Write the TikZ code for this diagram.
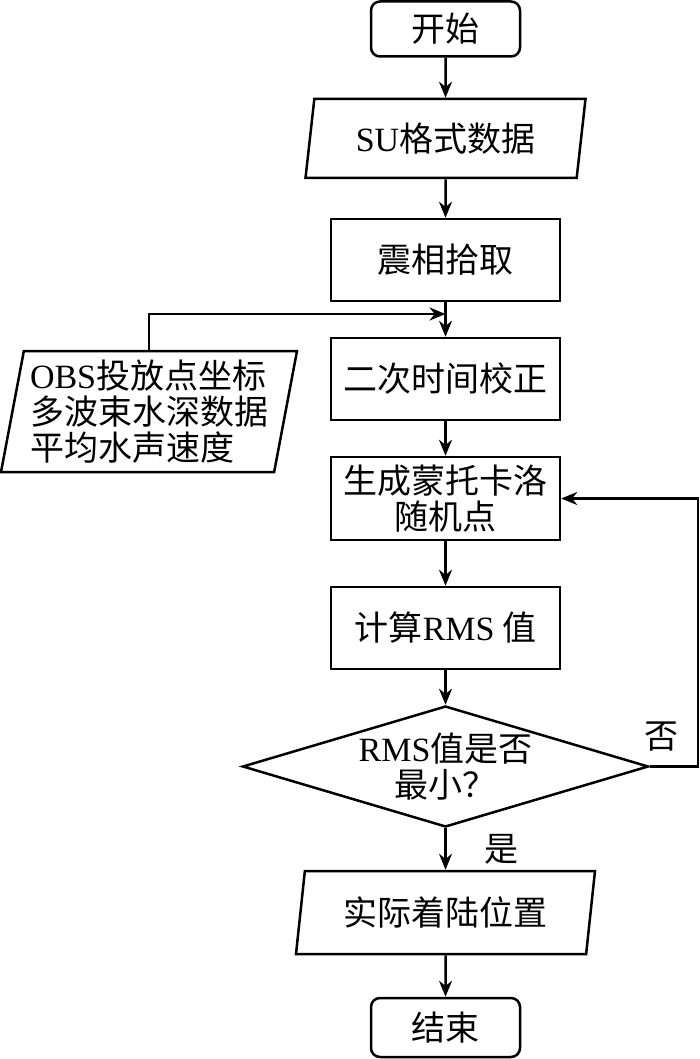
\documentclass[tikz,border=0pt]{standalone}
\usepackage{fontspec}
\setmainfont{Liberation Serif}
\newfontfamily\cjkfont{Noto Sans CJK SC}
\usetikzlibrary{positioning,calc,arrows.meta,shapes.geometric}
\tikzset{base/.style={draw, line width=2.5pt, font=\cjkfont\fontsize{34}{36}\selectfont, align=center, inner sep=2pt}}
\tikzset{term/.style={base, rounded corners=9pt, minimum width=149pt, minimum height=55pt}}
\tikzset{proc/.style={base, minimum width=229pt, minimum height=82pt}}
\tikzset{io/.style={base, trapezium, trapezium left angle=76, trapezium right angle=104, trapezium stretches body, minimum height=79pt}}
\tikzset{dec/.style={base, diamond, aspect=3.36, inner sep=0pt, minimum width=406pt, minimum height=121pt}}
\tikzset{arr/.style={draw, line width=2.5pt, -{Stealth[length=16pt, width=13pt]}}}
\tikzset{lbl/.style={font=\cjkfont\fontsize{34}{36}\selectfont, inner sep=0pt}}

\begin{document}
\begin{tikzpicture}[x=1pt, y=-1pt]
    \useasboundingbox (0,0) rectangle (700,1059);
	\node[term] (start) at (445.5,29) {开始};
	\node[io, minimum width=280pt] (su) at (445.5,138.5) {\textrm{SU}格式数据};
	\node[proc] (pick) at (445.5,260) {震相拾取};
	\node[proc] (corr) at (445.5,379) {二次时间校正};
	\node[io, minimum width=296pt, minimum height=121pt, trapezium left angle=78, trapezium right angle=102, align=left] (obs) at (149,411.5) {\textrm{OBS}投放点坐标\\多波束水深数据\\平均水声速度};
	\node[proc, minimum height=83pt] (mc) at (445.5,498.5) {生成蒙托卡洛\\随机点};
	\node[proc] (rms) at (445.5,628) {计算\textrm{RMS} 值};
	\node[dec] (judge) at (445.5,766.5) {\textrm{RMS}值是否\\最小？};
	\node[io, minimum width=299pt, minimum height=83pt] (land) at (445.5,912.5) {实际着陆位置};
	\node[term, minimum height=59pt] (stop) at (445.5,1027.5) {结束};
	\coordinate (join) at (445.5,314);
	\coordinate (back) at (698,766.5);
    \draw[arr] (start) -- (su);
    \draw[arr] (su) -- (pick);
    \draw[arr] (pick) -- (corr);
    \draw[arr] (obs.north) |- (join);
    \draw[arr] (corr) -- (mc);
    \draw[arr] (mc) -- (rms);
    \draw[arr] (rms) -- (judge);
    \draw[arr] (judge) -- node[lbl, right=38pt]{是} (land);
    \draw[arr] (judge.east) -- node[lbl, pos=0.25, above=14pt]{否} (back) |- (mc.east);
    \draw[arr] (land) -- (stop);
\end{tikzpicture}
\end{document}
